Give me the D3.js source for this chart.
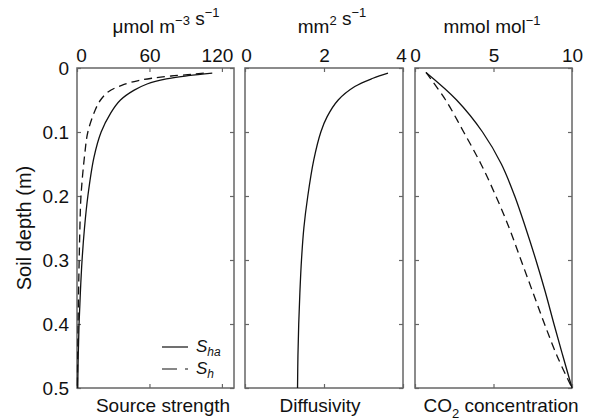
<!DOCTYPE html>
<html>
<head>
<meta charset="utf-8">
<script src="https://cdn.jsdelivr.net/npm/d3@7"></script>
<style>
  body { margin: 0; background: #fff; }
  text { font-family: "Liberation Sans", Arial, sans-serif; fill: #111; }
</style>
</head>
<body>
<div id="chart"></div>
<script>
// source strength (umol m-3 s-1)
const shaDepth = [0.008, 0.012, 0.017, 0.025, 0.035, 0.05, 0.07, 0.1, 0.14, 0.2, 0.25, 0.3, 0.35, 0.4, 0.45, 0.5];
const shaValue = [112, 92, 74, 58, 47, 36, 28, 20, 14, 9, 6.2, 4.2, 2.8, 1.7, 1.0, 0.6];
const shDepth = [0.008, 0.01, 0.0125, 0.016, 0.02, 0.027, 0.037, 0.05, 0.066, 0.1, 0.133, 0.2, 0.25, 0.3, 0.35, 0.4, 0.45, 0.5];
const shValue = [105, 95, 78, 62, 50, 37, 26, 19.5, 15, 9, 6.5, 3.3, 2.4, 1.8, 1.3, 0.9, 0.6, 0.3];
// diffusivity (mm2 s-1)
const diffDepth = [0.008, 0.016, 0.029, 0.05, 0.076, 0.1, 0.144, 0.2, 0.25, 0.3, 0.35, 0.4, 0.45, 0.5];
const diffValue = [3.62, 3.24, 2.78, 2.36, 2.08, 1.92, 1.74, 1.59, 1.49, 1.43, 1.39, 1.36, 1.34, 1.33];
// CO2 concentration (mmol mol-1)
const co2Depth = [0.007, 0.05, 0.1, 0.15, 0.2, 0.25, 0.3, 0.35, 0.4, 0.45, 0.5];
const co2HaValue = [0.7, 2.65, 4.3, 5.5, 6.35, 7.05, 7.7, 8.3, 8.85, 9.42, 10.0];
const co2HValue = [0.7, 1.95, 3.1, 4.2, 5.15, 6.0, 6.75, 7.5, 8.25, 9.05, 10.0];

const depthTicks = [0, 0.1, 0.2, 0.3, 0.4, 0.5];
const sourceTicks = [0, 60, 120];
const diffTicks = [0, 2, 4];
const co2Ticks = [0, 5, 10];

const width = 595;
const height = 420;
const plotTop = 68, plotBottom = 388;
const frameColor = "#666";
const fontSize = 19;

const svg = d3.select("#chart").append("svg")
  .attr("width", width)
  .attr("height", height);

const y = d3.scaleLinear().domain([0, 0.5]).range([plotTop, plotBottom]);

const panels = [
  { x0: 77, x1: 234, max: 130, ticks: sourceTicks, nudge: [4, 0, -5] },
  { x0: 245, x1: 403, max: 4, ticks: diffTicks, nudge: [1, 0, -2] },
  { x0: 415, x1: 572, max: 10, ticks: co2Ticks, nudge: [0, 0, 0] }
];

panels.forEach((p, i) => {
  p.x = d3.scaleLinear().domain([0, p.max]).range([p.x0, p.x1]);
  const g = svg.append("g");

  // top axis with labels, ticks inside
  g.append("g")
    .attr("transform", `translate(0,${plotTop})`)
    .call(d3.axisTop(p.x).tickValues(p.ticks).tickSize(-4).tickPadding(6).tickFormat(d3.format("d")))
    .call(a => a.select(".domain").remove())
    .call(a => a.selectAll("text").attr("font-size", fontSize).attr("fill", "#111")
      .attr("font-family", "Liberation Sans, Arial, sans-serif")
      .attr("dx", (d, k) => p.nudge[k]));
  // bottom ticks
  g.append("g")
    .attr("transform", `translate(0,${plotBottom})`)
    .call(d3.axisBottom(p.x).tickValues(p.ticks).tickSize(-4).tickFormat(""))
    .call(a => a.select(".domain").remove());
  // left ticks
  g.append("g")
    .attr("transform", `translate(${p.x0},0)`)
    .call(d3.axisLeft(y).tickValues(depthTicks).tickSize(-4).tickPadding(8)
      .tickFormat(i === 0 ? (d => d === 0 ? "0" : d3.format(".1f")(d)) : ""))
    .call(a => a.select(".domain").remove())
    .call(a => a.selectAll("text").attr("font-size", fontSize).attr("fill", "#111").attr("font-family", "Liberation Sans, Arial, sans-serif"));
  // right ticks
  g.append("g")
    .attr("transform", `translate(${p.x1},0)`)
    .call(d3.axisRight(y).tickValues(depthTicks).tickSize(-4).tickFormat(""))
    .call(a => a.select(".domain").remove());

  g.selectAll(".tick line").attr("stroke", frameColor).attr("stroke-width", 1.2);

  g.append("rect")
    .attr("x", p.x0).attr("y", plotTop)
    .attr("width", p.x1 - p.x0).attr("height", plotBottom - plotTop)
    .attr("fill", "none").attr("stroke", frameColor).attr("stroke-width", 1.5);
});

function curve(p, depth, values, dashed) {
  const line = d3.line()
    .x((d, i) => p.x(values[i]))
    .y(d => y(d))
    .curve(d3.curveCatmullRom.alpha(0.5));
  svg.append("path")
    .datum(depth)
    .attr("d", line)
    .attr("fill", "none")
    .attr("stroke", "#111")
    .attr("stroke-width", 1.3)
    .attr("stroke-dasharray", dashed ? "8,5" : null);
}

curve(panels[0], shaDepth, shaValue, false);
curve(panels[0], shDepth, shValue, true);
curve(panels[1], diffDepth, diffValue, false);
curve(panels[2], co2Depth, co2HaValue, false);
curve(panels[2], co2Depth, co2HValue, true);

// unit labels above panels
function unitLabel(x, parts) {
  const t = svg.append("text").attr("x", x).attr("y", 33)
    .attr("text-anchor", "middle").attr("font-size", 19);
  parts.forEach(([s, sup]) => {
    if (sup) {
      t.append("tspan").attr("dy", -8).attr("font-size", 13).text(s);
      t.append("tspan").attr("dy", 8).text("");
    } else {
      t.append("tspan").text(s);
    }
  });
}
unitLabel(166, [["\u03bcmol m", false], ["\u22123", true], [" s", false], ["\u22121", true]]);
unitLabel(332, [["mm", false], ["2", true], [" s", false], ["\u22121", true]]);
unitLabel(492, [["mmol mol", false], ["\u22121", true]]);

// bottom labels
svg.append("text").attr("x", 163).attr("y", 412).attr("text-anchor", "middle")
  .attr("font-size", fontSize).text("Source strength");
svg.append("text").attr("x", 320).attr("y", 412).attr("text-anchor", "middle")
  .attr("font-size", fontSize).text("Diffusivity");
const co2 = svg.append("text").attr("x", 501).attr("y", 412).attr("text-anchor", "middle")
  .attr("font-size", fontSize);
co2.append("tspan").text("CO");
co2.append("tspan").attr("dy", 6).attr("font-size", 13).text("2");
co2.append("tspan").attr("dy", -6).text(" concentration");

// y axis title
svg.append("text")
  .attr("transform", "translate(31,228) rotate(-90)")
  .attr("text-anchor", "middle")
  .attr("font-size", 20)
  .text("Soil depth (m)");

// legend
const legend = [
  { name: "ha", dashed: false, y: 347 },
  { name: "h", dashed: true, y: 369 }
];
legend.forEach(l => {
  svg.append("line")
    .attr("x1", 162).attr("x2", 188).attr("y1", l.y).attr("y2", l.y)
    .attr("stroke", "#111").attr("stroke-width", 1.2)
    .attr("stroke-dasharray", l.dashed ? "15,8" : null);
  const t = svg.append("text").attr("x", 196).attr("y", l.y + 5)
    .attr("font-size", 17).attr("font-style", "italic");
  t.append("tspan").text("S");
  t.append("tspan").attr("dy", 4).attr("font-size", 12).text(l.name);
});
</script>
</body>
</html>
